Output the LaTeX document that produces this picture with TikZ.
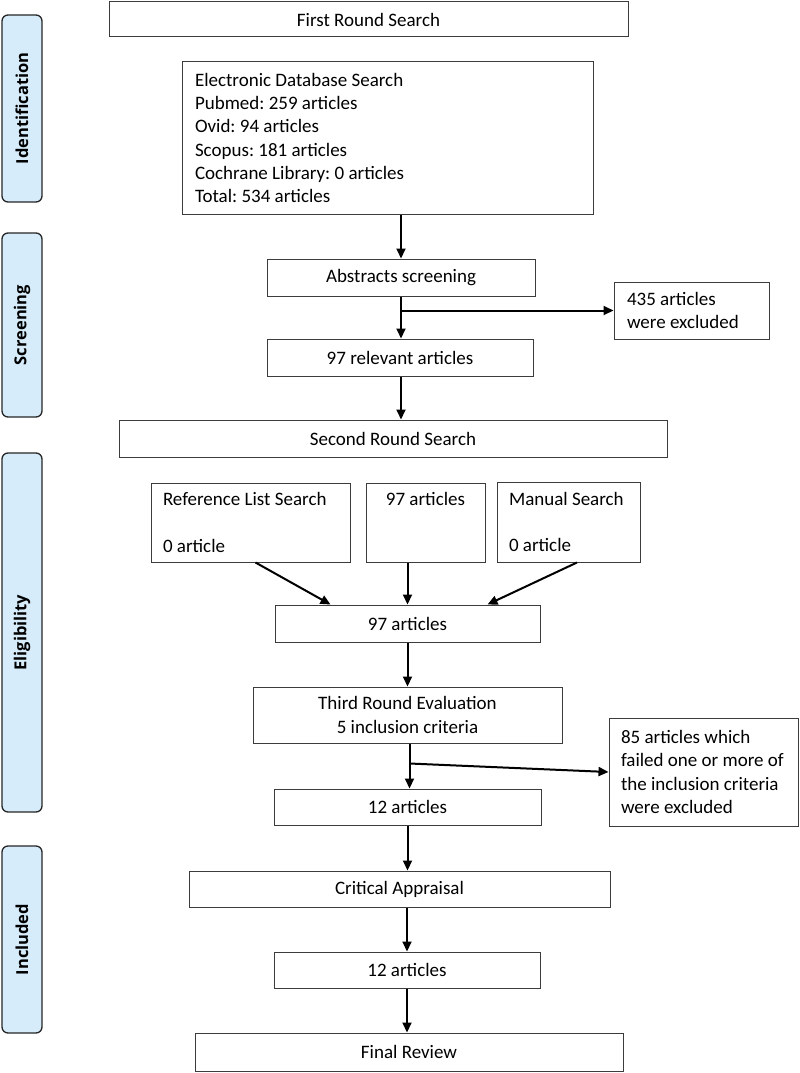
\documentclass[tikz,border=0pt]{standalone}
\usepackage{fontspec}
\setmainfont{Carlito}
\newfontfamily\labelfont{Open Sans}
\usetikzlibrary{arrows.meta,positioning,calc}
\definecolor{phasefill}{RGB}{214,236,250}
\definecolor{boxline}{RGB}{60,60,60}
\frenchspacing
\hyphenpenalty=10000
\begin{document}
\begin{tikzpicture}[x=1pt,y=-1pt,
  box/.style={draw=boxline,line width=1pt,fill=white,inner sep=0pt,
    font=\fontsize{19}{23.3}\selectfont,align=center},
  lbox/.style={box,align=flush left},
  phase/.style={draw=black!85,line width=1.3pt,fill=phasefill,rounded corners=6pt,
    rotate=90,font=\labelfont\bfseries\fontsize{16.5}{19}\selectfont,inner sep=0pt},
  arr/.style={line width=2pt,-{Triangle[length=10pt,width=9pt]}}]
\useasboundingbox (0,0) rectangle (800,1073);

% phase labels
\node[phase,minimum width=187pt,minimum height=40pt] (pid) at (22,108.5) {Identification};
\node[phase,minimum width=184pt,minimum height=40pt] (psc) at (22,325) {Screening};
\node[phase,minimum width=359pt,minimum height=40pt] (pel) at (22,632.5) {Eligibility};
\node[phase,minimum width=187pt,minimum height=40pt] (pin) at (22,939.5) {Included};

% boxes
\node[box,minimum width=519pt,minimum height=35pt] (first) at (368.5,19.5) {First Round Search};
\node[lbox,minimum width=411pt,minimum height=152pt,text width=385pt] (eds) at (387.5,138)
 {Electronic Database Search\\Pubmed: 259 articles\\Ovid: 94 articles\\Scopus: 181 articles\\Cochrane Library: 0 articles\\Total: 534 articles};
\node[box,minimum width=268pt,minimum height=37pt] (abs) at (401,277.5) {Abstracts screening};
\node[lbox,minimum width=155pt,minimum height=57pt,text width=129pt] (exc1) at (691.5,310.5)
 {435 articles\\were excluded};
\node[box,minimum width=266pt,minimum height=37pt] (rel) at (400,357.5) {97 relevant articles};
\node[box,minimum width=548pt,minimum height=37pt] (second) at (393,438.5) {Second Round Search};
\node[lbox,minimum width=199pt,minimum height=79pt,text width=175pt] (ref) at (250.5,522.5)
 {Reference List Search\\[23.3pt]0 article};
\node[box,align=flush center,minimum width=119pt,minimum height=79pt,text width=119pt] (mid) at (425.5,522.5)
 {97 articles\\[23.3pt]\mbox{}};
\node[lbox,minimum width=143pt,minimum height=80pt,text width=119pt] (man) at (568.5,522)
 {Manual Search\\[23.3pt]0 article};
\node[box,minimum width=265pt,minimum height=37pt] (a97) at (407.5,623.5) {97 articles};
\node[box,minimum width=309pt,minimum height=56pt] (third) at (407.5,715)
 {Third Round Evaluation\\5 inclusion criteria};
\node[lbox,minimum width=189pt,minimum height=108pt,text width=165pt] (exc2) at (703.5,772)
 {85 articles which\\failed one or more of\\the inclusion criteria\\were excluded};
\node[box,minimum width=267pt,minimum height=36pt] (a12) at (407.5,807) {12 articles};
\node[box,minimum width=421pt,minimum height=36pt] (crit) at (399.5,889) {Critical Appraisal};
\node[box,minimum width=266pt,minimum height=36pt] (a12b) at (407,970) {12 articles};
\node[box,minimum width=428pt,minimum height=38pt] (final) at (409,1052) {Final Review};

% connectors
\draw[arr] (eds.south -| abs.north) -- (abs.north);
\draw[arr] (abs.south) -- (abs.south |- rel.north);
\coordinate (b1) at (abs.south |- exc1.west);
\draw[arr] (b1) -- (exc1.west);
\draw[arr] (rel.south -| abs.south) -- (abs.south |- second.north);
\draw[arr] ([xshift=5pt]ref.south) -- ([xshift=-77pt]a97.north);
\draw[arr] (mid.south -| a97.north) -- (a97.north);
\draw[arr] ([xshift=8.5pt]man.south) -- ([xshift=80pt]a97.north);
\draw[arr] (a97.south) -- (third.north);
\draw[arr] ([xshift=2pt]third.south) -- ([xshift=2pt]third.south |- a12.north);
\coordinate (b2) at ([xshift=2pt,yshift=-20pt]third.south);
\draw[arr] (b2) -- (exc2.west);
\draw[arr] (a12.south) -- (a12.south |- crit.north);
\draw[arr] (a12b.north |- crit.south) -- (a12b.north);
\draw[arr] (a12b.south) -- (a12b.south |- final.north);
\end{tikzpicture}
\end{document}
